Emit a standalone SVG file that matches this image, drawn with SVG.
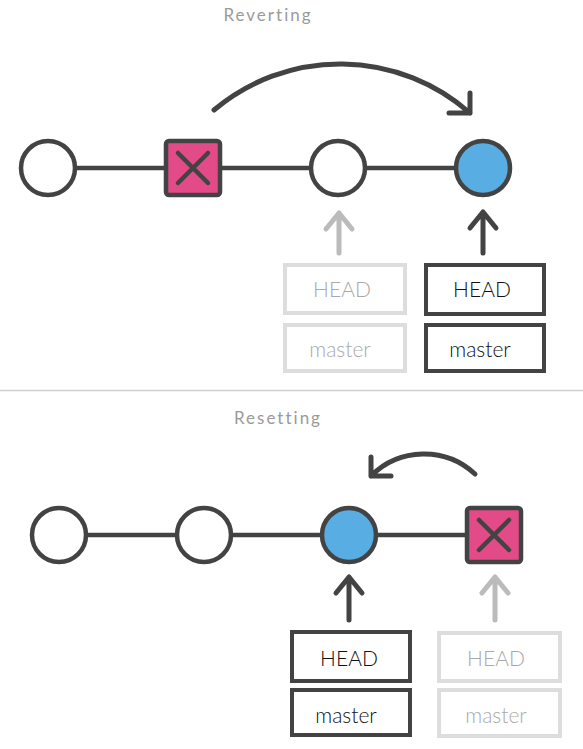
<svg xmlns="http://www.w3.org/2000/svg" width="583" height="749" viewBox="0 0 583 749">
<style>
.title{font-family:"Lato","Roboto","Liberation Sans",sans-serif;font-size:17px;letter-spacing:2px;fill:#9a9a9a;text-anchor:middle}
.lbl{font-family:"Lato","Open Sans","Liberation Sans",sans-serif;font-size:21px;font-weight:300;text-anchor:middle}
.commit{fill:#fff;stroke:#434343;stroke-width:4.5}
.cur{fill:#58aee2;stroke:#434343;stroke-width:4.5}
.bad{fill:#e24a88;stroke:#434343;stroke-width:4.5}
.x{stroke:#434343;stroke-width:4.5;stroke-linecap:round;fill:none}
.edge{stroke:#434343;stroke-width:4.5;fill:none}
.arc{stroke:#434343;stroke-width:5;fill:none;stroke-linecap:round;stroke-linejoin:round}
.ptr{stroke-width:5;fill:none;stroke-linecap:round;stroke-linejoin:round}
.dark{stroke:#434343}
.light{stroke:#bbbbbb}
.boxd{fill:#fff;stroke:#434343;stroke-width:4}
.boxl{fill:#fff;stroke:#dddddd;stroke-width:4}
.td{fill:#111}
.tl{fill:#a9a9a9}
</style>
<rect width="583" height="749" fill="#fff"/>
<text class="title" x="268" y="21">Reverting</text>
<line x1="0" y1="390.5" x2="583" y2="390.5" stroke="#cfcfcf" stroke-width="1.5"/>
<text class="title" x="278" y="424">Resetting</text>

<g id="connectors">
<line class="edge" x1="48" y1="168" x2="483" y2="168"/>
<line class="edge" x1="59" y1="535" x2="494" y2="535"/>
<path class="arc" d="M214 110 A196 196 0 0 1 470 113 M470 93 L470 113 L449 113"/>
<path class="arc" d="M475 474 A75 75 0 0 0 371 476 M371 457 L371 476 L391 476"/>
<path class="ptr light" d="M339 253 L339 213 M326 229 L339 213 L352 229"/>
<path class="ptr dark" d="M483 253 L483 212 M470 228 L483 212 L496 228"/>
<path class="ptr dark" d="M349 620 L349 577 M336 593 L349 577 L362 593"/>
<path class="ptr light" d="M495 620 L495 577 M482 593 L495 577 L508 593"/>
</g>

<g id="r-c1"><circle class="commit" cx="48" cy="168" r="27"/></g>
<g id="r-c2"><rect class="bad" x="166" y="141" width="54" height="54" rx="3"/><path class="x" d="M178 153 L208 183 M208 153 L178 183"/></g>
<g id="r-c3"><circle class="commit" cx="338" cy="168" r="27"/></g>
<g id="r-c4"><circle class="cur" cx="483" cy="168" r="27"/></g>

<g id="r-head-old"><rect class="boxl" x="285" y="265" width="120" height="48"/><text class="lbl tl" x="342" y="297">HEAD</text></g>
<g id="r-master-old"><rect class="boxl" x="285" y="325" width="120" height="46"/><text class="lbl tl" x="340" y="357">master</text></g>
<g id="r-head-new"><rect class="boxd" x="426" y="265" width="118" height="49"/><text class="lbl td" x="482" y="297">HEAD</text></g>
<g id="r-master-new"><rect class="boxd" x="426" y="325" width="118" height="46"/><text class="lbl td" x="480" y="357">master</text></g>

<g id="s-c1"><circle class="commit" cx="59" cy="535" r="27"/></g>
<g id="s-c2"><circle class="commit" cx="204" cy="535" r="27"/></g>
<g id="s-c3"><circle class="cur" cx="349" cy="535" r="27"/></g>
<g id="s-c4"><rect class="bad" x="467" y="508" width="54" height="54" rx="3"/><path class="x" d="M479 520 L509 550 M509 520 L479 550"/></g>

<g id="s-head-new"><rect class="boxd" x="292" y="632" width="118" height="49"/><text class="lbl td" x="349" y="666">HEAD</text></g>
<g id="s-master-new"><rect class="boxd" x="292" y="690" width="118" height="45"/><text class="lbl td" x="346" y="723">master</text></g>
<g id="s-head-old"><rect class="boxl" x="439" y="633" width="121" height="48"/><text class="lbl tl" x="496" y="666">HEAD</text></g>
<g id="s-master-old"><rect class="boxl" x="439" y="690" width="121" height="46"/><text class="lbl tl" x="496" y="723">master</text></g>
</svg>
